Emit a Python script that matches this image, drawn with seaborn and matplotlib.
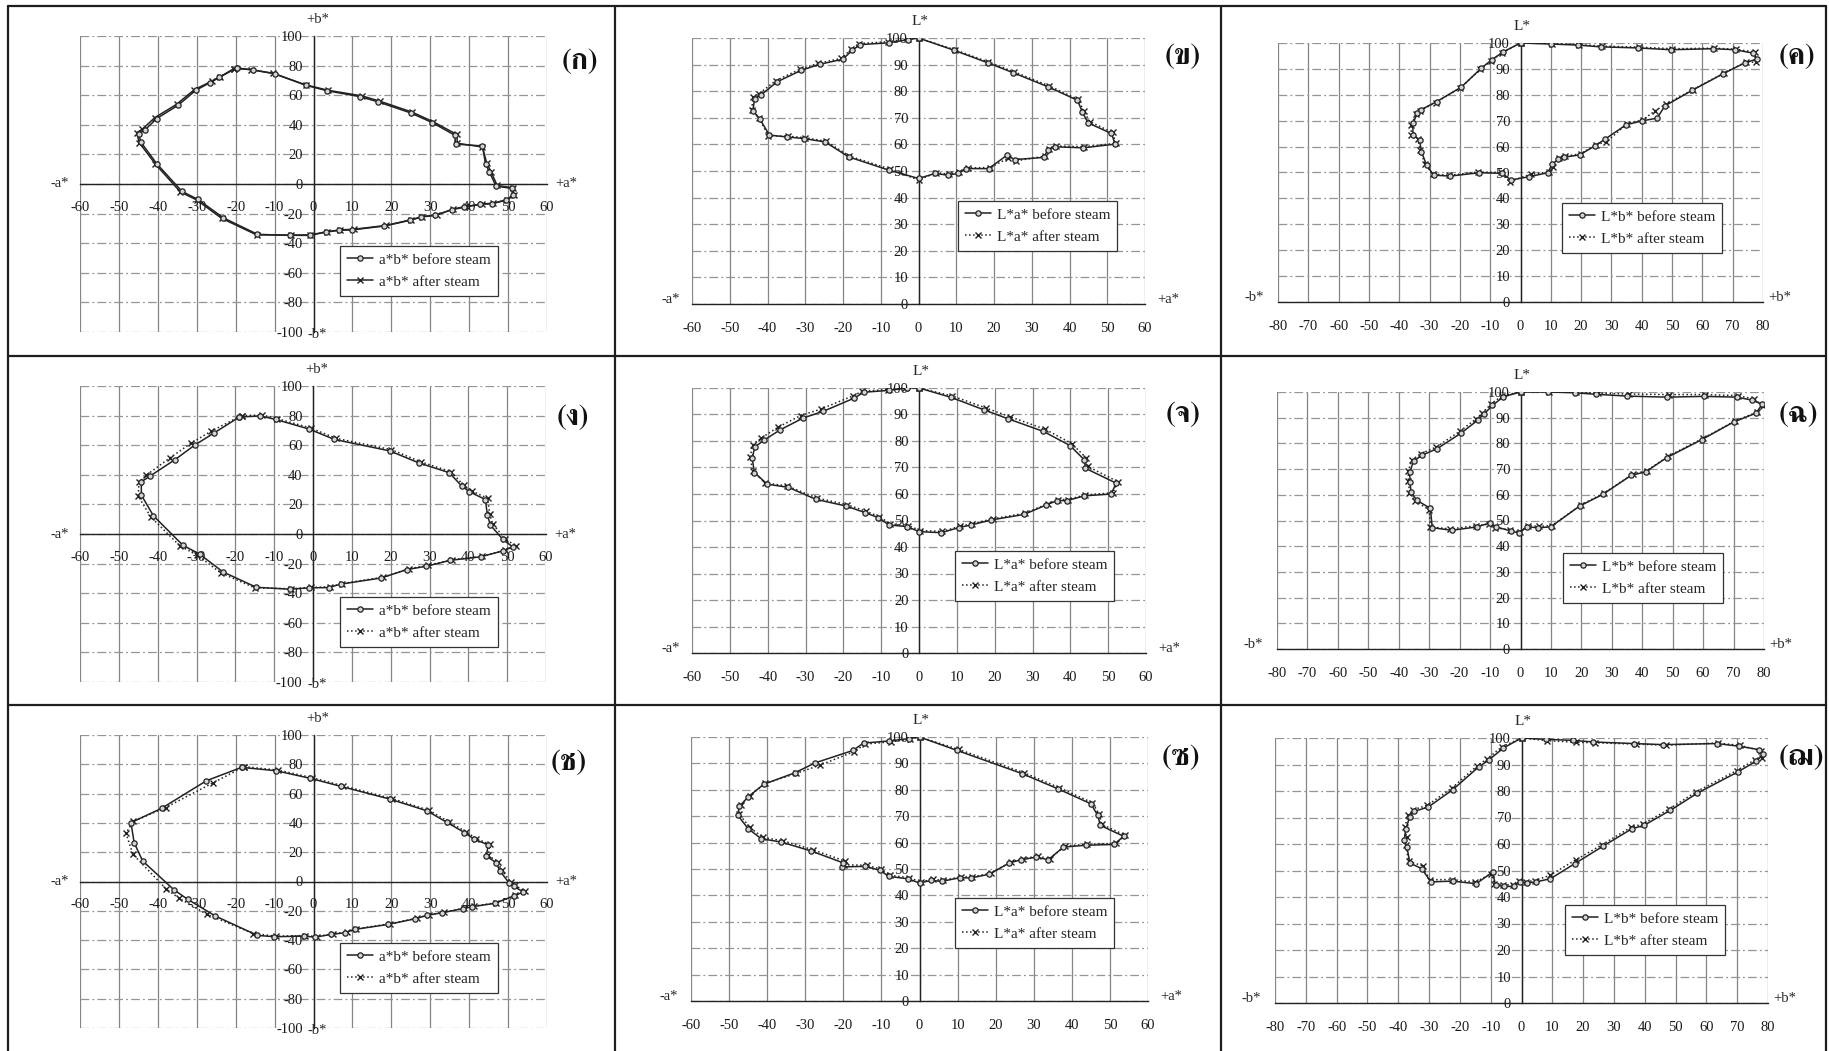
import numpy as np
import matplotlib
matplotlib.use("Agg")
import matplotlib.pyplot as plt
import seaborn as sns
from matplotlib import font_manager
from matplotlib.ft2font import FT2Font
from matplotlib.lines import Line2D

# ------------------------------------------------------------------ data
# Panel (ก)  a*b*
P1_before_a = [-19.7, -15.6, -10, -2, 3.5, 12, 16.6, 25, 30.5, 36.3, 36.5, 43.4, 44.2, 45.2, 46.9, 51, 51.2, 49.4, 45.9, 42.9, 38.8, 35.5, 31.3, 27.7, 24.7, 18.2, 10, 6.6, 3.2, -1, -6, -14.4, -23.2, -29.7, -33.8, -40.3, -44.4, -44.9, -43.4, -40.3, -34.8, -30.2, -26.7, -24.2, -19.7]
P1_before_b = [78.5, 77, 74.6, 66.7, 63, 59, 55.5, 48, 41.5, 33, 27, 25.7, 13.8, 8, -1.4, -3, -7.7, -11, -13.3, -13.8, -15.6, -17.4, -21.2, -22.3, -24.6, -28.4, -31, -31.3, -32.5, -34.7, -34.7, -34, -22.8, -10.4, -5, 13.8, 28.4, 34, 36.3, 44.2, 53.2, 63.4, 68.3, 72, 78.5]
P1_after_a = [-20.4, -16, -10.5, -2, 3.8, 12.5, 17, 25.3, 30.8, 36.8, 37, 43.4, 44.5, 45.6, 47.2, 51.3, 51.5, 49.6, 46.2, 43.2, 39.1, 35.8, 31.8, 28, 25, 18.6, 10.3, 6.9, 3.5, -0.8, -5.8, -14.6, -23.6, -30, -34.2, -40.6, -44.8, -45.4, -44, -40.8, -35.2, -30.6, -26.2, -24, -20.4]
P1_after_b = [78, 77.3, 74.8, 67, 63.3, 59.5, 56, 48.6, 42, 33.5, 27.5, 25, 14.2, 8.4, -1, -2.6, -7.3, -10.6, -13, -13.5, -15.2, -17, -20.8, -22, -24.2, -28, -30.6, -31, -32.2, -34.4, -34.5, -34.4, -23.2, -10.8, -5.4, 13.4, 28, 34.7, 37, 44.8, 53.8, 63.8, 69.4, 72.5, 78]

# Panel (ข)  L*a*
P2_before_a = [0, 9.4, 18.3, 25, 34.4, 42.1, 43.4, 44.9, 51.1, 52.1, 43.6, 36.2, 34.2, 33.2, 25.5, 23.4, 18.6, 12.7, 10.4, 7.8, 4.5, 0, -7.8, -18.5, -24.7, -30.3, -34.9, -39.5, -42.1, -43.9, -43.4, -41.8, -37.5, -31, -26.2, -20.1, -17.5, -15.5, -7.8, -2.7, 0]
P2_before_L = [100, 95.4, 90.7, 87, 81.6, 76.6, 72.2, 68.1, 64.1, 60.1, 58.7, 59.1, 57.8, 55.1, 54.3, 55.9, 50.9, 50.9, 49.1, 48.4, 49.1, 47.2, 50.3, 55.3, 60.9, 62.2, 62.8, 63.5, 69.7, 72.6, 77.2, 78.5, 83.5, 87.9, 90.1, 92, 95.4, 97.5, 98.2, 99.4, 100]
P2_after_a = [0, 9.6, 18.5, 25.3, 34.6, 42.3, 43.8, 45.3, 51.4, 52.3, 43.8, 36.5, 34.6, 33.5, 25.8, 23.8, 18.9, 13, 10.6, 8, 4.7, 0, -7.5, -18.3, -24.5, -30, -34.6, -39.8, -42.3, -44.2, -43.8, -42.2, -37.8, -31.3, -26.5, -20.4, -17.8, -15.8, -8, -2.9, 0]
P2_after_L = [100, 95.6, 91, 87.3, 82, 76.9, 72.6, 68.6, 64.5, 60.4, 59.1, 59.4, 58.3, 55.6, 53.8, 54.8, 51.3, 51.2, 49.5, 48.8, 49.4, 46.6, 50.7, 55.6, 61.2, 62.5, 63.1, 63.2, 70.1, 73.1, 77.8, 79.1, 84, 88.3, 90.5, 92.4, 95.8, 97.9, 98.6, 99.6, 100]

# Panel (ค)  L*b*
P3_before_b = [0, 10, 18.9, 26.5, 38.7, 49.6, 63.6, 70.7, 76.7, 78, 73.9, 66.8, 56.6, 47.6, 45.1, 40, 34.8, 27.8, 24.6, 19.5, 14.4, 12.5, 10.5, 9, 2.9, -3.1, -6.1, -13.7, -23.3, -28.7, -31, -32.7, -33.3, -35.5, -35.5, -34, -32.9, -27.6, -19.5, -12.9, -9.5, -5.8, 0]
P3_before_L = [100, 99.6, 99.2, 98.5, 98.1, 97.4, 97.8, 97.4, 96.1, 93.8, 92.3, 88.1, 81.7, 75.7, 71, 69.9, 68.4, 62.8, 60.3, 56.8, 55.9, 55.1, 53.3, 49.9, 48.4, 47.1, 49.7, 49.9, 48.6, 49, 52.9, 58.1, 62.6, 64.5, 69, 72.9, 74.2, 77.4, 83, 90.3, 93.5, 96.5, 100]
P3_after_b = [0, 10.3, 19.2, 26.8, 39, 49.9, 63.9, 71, 77.2, 77.6, 74.3, 67.1, 56.9, 47.9, 44.4, 40.3, 35.2, 28.3, 25, 19.8, 14.8, 12.8, 10.8, 9.4, 3.3, -3.6, -6.4, -14, -23.6, -29, -31.4, -33.2, -33.8, -36.1, -36, -34.4, -33.3, -28, -19.8, -13.2, -9.8, -6.1, 0]
P3_after_L = [100, 99.8, 99.4, 98.8, 98.4, 97.8, 98, 97.6, 96.5, 92.6, 92.6, 88.4, 82, 76.4, 73.8, 70.3, 68.8, 61.8, 60.8, 57.2, 56.3, 55.5, 52, 50.2, 49.3, 46.5, 50, 50.2, 48.9, 49.4, 53.3, 58.6, 63.1, 64.6, 68.5, 72.4, 73.8, 77, 82.7, 89.9, 93.1, 96.2, 100]

# Panel (ง)  a*b*
P4_before_a = [-19, -13.6, -9.6, -1, 5.5, 19.7, 27.2, 35.1, 38.3, 40.3, 44.4, 44.9, 45.7, 48.9, 51.4, 48.9, 43.2, 35.3, 29.2, 24.2, 17.6, 7.1, 4, -1, -6, -14.6, -23.2, -29.2, -33.5, -41.1, -44.2, -44.2, -42, -35.5, -30.5, -25.4, -19]
P4_before_b = [79, 79.8, 77.4, 70.9, 63.9, 56.2, 48.1, 41.4, 32.4, 28.5, 23.3, 12.7, 6, -3.7, -8.7, -11.4, -15.4, -17.8, -21.8, -24, -29.7, -33.9, -36.2, -36.4, -37.3, -36, -25.6, -13.6, -7.6, 12.3, 26.3, 35.3, 39.1, 50.3, 60, 68.4, 79]
P4_after_a = [-18.4, -13.2, -9.2, -0.6, 6, 20.2, 27.7, 35.6, 38.8, 41, 45, 45.5, 46.3, 49.5, 52.2, 49.4, 43.6, 35.8, 29.6, 24.6, 18, 7.5, 4.4, -0.6, -5.6, -15, -23.8, -29.8, -34.2, -41.8, -45, -44.8, -43, -36.8, -31.5, -26.2, -18.4]
P4_after_b = [80, 80.4, 78, 71.6, 64.6, 57, 48.8, 42, 32.8, 29, 24, 13.4, 6.6, -3.2, -8.2, -11, -15, -17.4, -21.2, -23.6, -29.2, -33.5, -35.8, -36, -37, -36.4, -26.2, -14.2, -8.2, 11.6, 25.6, 35, 39.6, 51.5, 61.2, 69.5, 80]

# Panel (จ)  L*a*
P5_before_a = [0, 8.4, 17.1, 23.5, 32.9, 39.9, 43.7, 44, 52.1, 50.8, 43.7, 39.1, 36.5, 33.7, 27.8, 19.1, 13.7, 10.5, 5.9, 0, -3.1, -7.9, -10.8, -14.3, -19.4, -27.3, -34.5, -40.1, -43.5, -44.1, -43.4, -41.1, -36.7, -30.6, -25.3, -17.1, -14.6, -7.9, -3.3, 0]
P5_before_L = [100, 96.5, 91.8, 88.4, 83.6, 78.3, 72.9, 69.7, 64.1, 60, 59.3, 57.5, 57.5, 55.9, 52.3, 50.2, 48.3, 47.3, 45.4, 45.8, 47.7, 48.3, 51.1, 53, 55.5, 58, 62.5, 63.7, 68.1, 73.5, 77.7, 80.2, 84.2, 88.7, 91.2, 96.2, 98.4, 99.1, 100, 100]
P5_after_a = [0, 8.8, 17.6, 24, 33.4, 40.4, 44.2, 44.6, 52.6, 51.2, 44, 39.4, 36.8, 34, 28.1, 19.5, 14, 10.8, 6.2, 0.3, -2.8, -7.6, -10.5, -14, -19.1, -27, -34.8, -40.6, -44, -44.6, -44, -41.8, -37.4, -31.3, -26, -17.5, -15, -8.2, -3.6, 0]
P5_after_L = [100, 97, 92.5, 89.2, 84.4, 79, 73.6, 70.4, 64.6, 60.4, 59.7, 57.9, 57.9, 56.3, 52.8, 50.6, 48.8, 47.8, 45.9, 46.2, 48.1, 48.7, 51.5, 53.5, 56, 58.5, 63, 64.2, 68.6, 74, 78.4, 81, 85.1, 89.6, 92, 97, 98.8, 99.4, 100, 100]

# Panel (ฉ)  L*b*
P6_before_b = [0, 8.9, 17.8, 24.9, 35.1, 48.1, 60.2, 71.1, 76.2, 79.4, 77.4, 70, 59.6, 48.1, 41.1, 36.4, 27.1, 19.4, 9.9, 5.8, 2.2, -0.6, -3.1, -8, -9.9, -14.3, -22.6, -29, -29.6, -34.1, -36, -36.3, -36.4, -35.1, -32.4, -27.3, -19.4, -14.1, -12.1, -9.2, -5.7, 0]
P6_before_L = [100, 100, 99.7, 99.1, 98.4, 98, 98.3, 98, 96.8, 95.2, 91.8, 88.3, 81.5, 74.5, 68.9, 67.6, 60.2, 55.6, 47.5, 47.2, 47.5, 45.2, 45.9, 47.5, 49.1, 47.5, 46.2, 47.2, 54.7, 57.9, 61.1, 65, 68.9, 73.1, 75.4, 78, 84.1, 89, 91.3, 94.8, 98.1, 100]
P6_after_b = [0, 9.2, 18.2, 25.3, 35.5, 48.7, 60.6, 71.5, 76.8, 79.8, 77.8, 70.4, 60, 48.5, 41.5, 36.8, 27.5, 19.8, 10.3, 6.2, 2.5, -0.3, -3.4, -8.3, -10.2, -14.6, -23, -29.6, -30, -34.6, -36.5, -36.8, -36.9, -35.6, -32.8, -27.7, -19.8, -14.5, -12.5, -9.6, -6, 0]
P6_after_L = [100, 100, 100, 99.6, 99.2, 99, 99, 98.6, 97.2, 94.6, 92.2, 88.7, 82, 75, 69.4, 68, 60.7, 56, 48, 47.7, 48, 45.6, 46.3, 47.2, 48.6, 48, 46.7, 47.5, 54.2, 57.5, 60.8, 65.5, 69.4, 73.6, 76, 78.6, 84.8, 89.6, 91.9, 95.4, 98.6, 100]

# Panel (ช)  a*b*
P7_before_a = [-18.5, -9.6, -0.8, 7.1, 19.7, 29.2, 34.3, 38.8, 41.3, 44.9, 44.4, 46.9, 47.9, 50.2, 51.4, 53.9, 51.4, 46.6, 40.8, 38.3, 33.1, 29.2, 26.2, 19.2, 10.6, 8.1, 4.5, 0.5, -2.5, -10.1, -14.4, -25.2, -32.3, -35.8, -43.9, -46.1, -46.9, -39, -27.5, -18.5]
P7_before_b = [77.9, 75.6, 70.4, 64.9, 56.2, 48.2, 40.3, 33.4, 28.9, 25, 17.4, 12.9, 7.2, -0.8, -3.1, -7.2, -9.9, -14.9, -17.2, -18.6, -21.3, -23.1, -25.4, -29.3, -32.7, -35, -36.1, -38, -37.3, -37.7, -36.8, -23.6, -12.2, -5.8, 14, 26.6, 40.2, 50, 68.8, 77.9]
P7_after_a = [-17.8, -9, -0.3, 7.6, 20.2, 29.7, 34.8, 39.3, 41.8, 45.3, 44.9, 47.4, 48.4, 50.7, 51.9, 54.4, 51.8, 47, 41.2, 38.7, 33.5, 29.6, 26.6, 19.6, 11, 8.5, 4.9, 0.9, -2.1, -9.7, -15.5, -27.4, -34.5, -37.8, -46.4, -48.2, -46.3, -38, -25.7, -17.8]
P7_after_b = [78.4, 76, 70.8, 65.3, 56.6, 48.6, 40.7, 33.8, 29.3, 25.4, 17.8, 13.3, 7.6, -0.4, -2.7, -6.8, -9.5, -14.5, -16.8, -18.2, -20.9, -22.7, -25, -28.9, -32.3, -34.6, -35.7, -37.6, -36.9, -37.3, -35.5, -22.4, -11.5, -5.3, 18.6, 33, 41, 50.5, 67.5, 78.4]

# Panel (ซ)  L*a*
P8_before_a = [0, 9.9, 27, 36.3, 45, 46.8, 47.5, 53.6, 51.1, 43.7, 37.8, 33.8, 30.7, 26.7, 23.6, 18.3, 13.5, 10.6, 5.8, 3.1, 0, -3.1, -8.1, -10.4, -14.2, -20.3, -20, -28.4, -36.3, -41.6, -45, -47.7, -47.3, -45, -40.9, -32.8, -27.4, -17.5, -14.7, -7.9, -2.8, 0]
P8_before_L = [100, 94.9, 86.1, 80.4, 74.7, 70.3, 66.5, 62.4, 59.3, 59, 58.3, 53.5, 54.5, 53.5, 52.3, 48, 46.6, 46.7, 45.3, 45.7, 44.7, 46.3, 47.2, 49.5, 51, 50.8, 52.3, 56.8, 60.2, 61.5, 65.3, 70.3, 73.7, 77.3, 82.1, 86.4, 90.2, 94.9, 97.7, 98.5, 99.4, 100]
P8_after_a = [0, 10.3, 27.4, 36.7, 45.4, 47.2, 47.9, 54, 51.5, 44.1, 38.2, 34.2, 31.1, 27.1, 24, 18.7, 13.9, 11, 6.2, 3.5, 0.3, -2.7, -7.7, -10, -13.8, -19.9, -19.6, -28, -35.9, -41.2, -44.6, -47.3, -46.9, -44.6, -40.5, -32.4, -26.2, -17.1, -14.3, -7.5, -2.5, 0]
P8_after_L = [100, 95.3, 86.5, 80.8, 75.1, 70.7, 66.9, 62.8, 59.7, 59.4, 58.7, 53.9, 54.9, 53.9, 52.7, 48.4, 47, 47.1, 45.7, 46.1, 45.1, 46.7, 47.6, 49.9, 51.4, 51.6, 53, 57.3, 60.7, 62, 65.8, 70.8, 74.2, 77.8, 82.4, 86.2, 89.3, 94.5, 97.3, 98.2, 99.2, 100]

# Panel (ฌ)  L*b*
P9_before_b = [0, 7.9, 16.8, 23.3, 36.5, 46, 63.4, 70.6, 77.2, 78.5, 76.2, 70.2, 57.1, 48.3, 39.7, 35.9, 26.5, 17.3, 9.4, 4.7, 1.9, -0.6, -2.5, -5.7, -8.4, -9.4, -14.7, -22.3, -29.4, -32.4, -36.2, -37.2, -38.1, -37.5, -36.3, -34.8, -30.2, -22.3, -13.9, -10.7, -5.9, 0]
P9_before_L = [100, 99.5, 99.1, 98.5, 97.9, 97.5, 97.9, 96.9, 95.6, 93.8, 91.3, 87.2, 79.2, 72.7, 67, 65.8, 59.2, 52.6, 46.9, 45.7, 45.3, 45.7, 44, 44, 44.4, 49.4, 45, 46, 45.7, 50.7, 52.8, 58.9, 61.4, 65.8, 70.2, 72.3, 74, 80.5, 89.1, 91.6, 96.2, 100]
P9_after_b = [0, 8.3, 17.6, 23.8, 37, 46.8, 63.9, 71, 77.6, 78.2, 75.8, 69.8, 56.7, 47.9, 39.3, 35.5, 26.1, 17.6, 9.2, 4.4, 1.6, -0.9, -2.8, -6, -8.8, -9.8, -15, -22.6, -29.8, -32.1, -36.6, -37.6, -37.3, -37.9, -36.7, -35.2, -30.6, -22.7, -14.3, -11.1, -6.3, 0]
P9_after_L = [100, 99, 98.4, 98.2, 97.7, 97.3, 98.1, 97.2, 95.2, 92.6, 91.8, 87.7, 79.7, 73.2, 67.5, 66.3, 59.7, 54, 48.2, 46.2, 45.8, 46.2, 44.6, 44.6, 45, 48.8, 45.6, 46.6, 46.5, 51.8, 53.4, 59.6, 62.6, 66.5, 70.8, 72.9, 74.6, 81, 89.6, 92.2, 96.7, 100]

PANEL_LABELS = ["(ก)", "(ข)", "(ค)", "(ง)", "(จ)", "(ฉ)", "(ช)", "(ซ)", "(ฌ)"]
AB_LEGEND = ["a*b* before steam", "a*b* after steam"]
LA_LEGEND = ["L*a* before steam", "L*a* after steam"]
LB_LEGEND = ["L*b* before steam", "L*b* after steam"]
AB_XTICKS = list(range(-60, 61, 10))
AB_YTICKS = list(range(-100, 101, 20))
LA_XTICKS = list(range(-60, 61, 10))
LB_XTICKS = list(range(-80, 81, 10))
L_YTICKS = list(range(0, 101, 10))

# ------------------------------------------------------------------ style
W, H = 1829, 1051
sns.set_theme(style="white")
SERIF = ["Liberation Serif", "DejaVu Serif", "DejaVu Sans"]
plt.rcParams["font.family"] = SERIF
plt.rcParams["axes.unicode_minus"] = False


def find_thai_family():
    found = []
    for fe in font_manager.fontManager.ttflist:
        try:
            cm = FT2Font(fe.fname).get_charmap()
        except Exception:
            continue
        if all(ord(c) in cm for c in "กขคงจฉชซฌ"):
            found.append(fe.name)
    for n in found:
        if "Serif" in n:
            return n
    return found[0] if found else None


THAI = find_thai_family()
LABEL_FAMILY = ([THAI] if THAI else []) + SERIF

INK = "#222222"
fig = plt.figure(figsize=(W / 100, H / 100), dpi=100)
fig.patch.set_facecolor("white")


def rect(x0, x1, y0, y1):
    return [x0 / W, 1 - y1 / H, (x1 - x0) / W, (y1 - y0) / H]


panels = [
    dict(kind="ab", box=(80, 547, 36, 332), b=(P1_before_a, P1_before_b), a=(P1_after_a, P1_after_b), lab=(580, 62), leg=(340, 246), als="-"),
    dict(kind="La", box=(692, 1145, 38, 304), b=(P2_before_a, P2_before_L), a=(P2_after_a, P2_after_L), lab=(1183, 57), leg=(958, 201), als=":"),
    dict(kind="Lb", box=(1278, 1763, 43, 302), b=(P3_before_b, P3_before_L), a=(P3_after_b, P3_after_L), lab=(1797, 57), leg=(1562, 203), als=":"),
    dict(kind="ab", box=(80, 546, 386, 682), b=(P4_before_a, P4_before_b), a=(P4_after_a, P4_after_b), lab=(573, 418), leg=(340, 597), als=":"),
    dict(kind="La", box=(692, 1146, 388, 653), b=(P5_before_a, P5_before_L), a=(P5_after_a, P5_after_L), lab=(1183, 415), leg=(955, 551), als=":"),
    dict(kind="Lb", box=(1277, 1764, 392, 649), b=(P6_before_b, P6_before_L), a=(P6_after_b, P6_after_L), lab=(1798, 415), leg=(1563, 553), als=":"),
    dict(kind="ab", box=(80, 547, 735, 1028), b=(P7_before_a, P7_before_b), a=(P7_after_a, P7_after_b), lab=(569, 763), leg=(340, 943), als=":"),
    dict(kind="La", box=(691, 1148, 737, 1001), b=(P8_before_a, P8_before_L), a=(P8_after_a, P8_after_L), lab=(1181, 758), leg=(955, 898), als=":"),
    dict(kind="Lb", box=(1275, 1768, 738, 1003), b=(P9_before_b, P9_before_L), a=(P9_after_b, P9_after_L), lab=(1801, 758), leg=(1565, 905), als=":"),
]

TICK_FS = 10.5
for i, p in enumerate(panels):
    ax = fig.add_axes(rect(*p["box"]))
    ax.set_facecolor("white")
    kind = p["kind"]
    if kind == "ab":
        xt, yt, names = AB_XTICKS, AB_YTICKS, AB_LEGEND
    elif kind == "La":
        xt, yt, names = LA_XTICKS, L_YTICKS, LA_LEGEND
    else:
        xt, yt, names = LB_XTICKS, L_YTICKS, LB_LEGEND
    ax.set_xlim(xt[0], xt[-1])
    ax.set_ylim(yt[0], yt[-1])
    ax.set_xticks(xt)
    ax.set_yticks(yt)
    ax.set_xticklabels([str(v) for v in xt])
    ax.set_yticklabels([str(v) for v in yt])

    ax.grid(axis="x", color="#858585", lw=0.9, ls="-")
    ax.grid(axis="y", color="#959595", lw=0.9, ls=(0, (7, 2.5, 1.5, 2.5)))
    ax.set_axisbelow(True)

    for s in ("top", "right"):
        ax.spines[s].set_visible(False)
    ax.spines["left"].set_position(("data", 0))
    ax.spines["left"].set_color(INK)
    ax.spines["bottom"].set_color(INK)
    ax.spines["left"].set_linewidth(1.0)
    ax.spines["bottom"].set_linewidth(1.0)
    if kind == "ab":
        ax.spines["bottom"].set_position(("data", 0))
    ax.tick_params(axis="both", direction="inout", length=5, width=0.9, color=INK,
                   labelsize=TICK_FS, labelcolor="#1a1a1a")
    ax.tick_params(axis="x", pad=9.5 if kind == "ab" else 10.5)
    ax.tick_params(axis="y", pad=5)

    bx, by = p["b"]
    axx, ayy = p["a"]
    sns.lineplot(x=bx, y=by, sort=False, estimator=None, ax=ax, color=INK, lw=1.1,
                 marker="o", markersize=3.8, markerfacecolor="#d4d4d4", markeredgecolor=INK,
                 markeredgewidth=0.9, label=names[0], zorder=4)
    sns.lineplot(x=axx, y=ayy, sort=False, estimator=None, ax=ax, color=INK, lw=1.1,
                 linestyle=p["als"], marker="x", markersize=4.5, markeredgewidth=1.0,
                 markeredgecolor=INK, label=names[1], zorder=3)
    ax.set_xlabel("")
    ax.set_ylabel("")

    lx, ly = p["leg"]
    ax.legend(loc="upper left", bbox_to_anchor=(lx / W, 1 - ly / H), bbox_transform=fig.transFigure,
              frameon=True, fancybox=False, edgecolor="#333333", framealpha=1, fontsize=11,
              handlelength=1.7, handletextpad=0.4, borderpad=0.45, labelspacing=0.55,
              borderaxespad=0)
    ax.get_legend().get_frame().set_linewidth(0.9)

    # axis end labels
    afs = 10.5
    if kind == "ab":
        ax.annotate("+b*", xy=(1, 1), xycoords=("data", "axes fraction"), xytext=(0, 7),
                    textcoords="offset points", ha="center", va="bottom", fontsize=afs)
        ax.annotate("-b*", xy=(1, 0), xycoords=("data", "axes fraction"), xytext=(0, -2),
                    textcoords="offset points", ha="center", va="center", fontsize=afs)
        ax.annotate("-a*", xy=(0, 0), xycoords=("axes fraction", "data"), xytext=(-8, 0),
                    textcoords="offset points", ha="right", va="center", fontsize=afs)
        ax.annotate("+a*", xy=(1, 0), xycoords=("axes fraction", "data"), xytext=(6, 0),
                    textcoords="offset points", ha="left", va="center", fontsize=afs)
    else:
        lo, ro = ("-a*", "+a*") if kind == "La" else ("-b*", "+b*")
        lgap, rgap = (9, 9) if kind == "La" else (10, 4)
        ax.annotate("L*", xy=(0.5, 1), xycoords=("data", "axes fraction"), xytext=(0, 7),
                    textcoords="offset points", ha="center", va="bottom", fontsize=11)
        ax.annotate(lo, xy=(0, 0), xycoords="axes fraction", xytext=(-lgap, 3),
                    textcoords="offset points", ha="right", va="center", fontsize=afs)
        ax.annotate(ro, xy=(1, 0), xycoords="axes fraction", xytext=(rgap, 3),
                    textcoords="offset points", ha="left", va="center", fontsize=afs)

    tx, ty = p["lab"]
    fig.text(tx / W, 1 - ty / H, PANEL_LABELS[i], ha="center", va="center", fontsize=21,
             fontweight="bold", family=LABEL_FAMILY, color="#111111")

# panel frame lines
def hline(y, x0=8, x1=1826):
    fig.add_artist(Line2D([x0 / W, x1 / W], [1 - y / H, 1 - y / H], transform=fig.transFigure,
                          color="#1e1e1e", lw=1.6))


def vline(x, y0=6, y1=1051):
    fig.add_artist(Line2D([x / W, x / W], [1 - y0 / H, 1 - y1 / H], transform=fig.transFigure,
                          color="#1e1e1e", lw=1.6))


hline(6)
hline(356)
hline(705)
vline(8)
vline(615)
vline(1221)
vline(1826)

fig.savefig("out.png", dpi=100, facecolor="white")
